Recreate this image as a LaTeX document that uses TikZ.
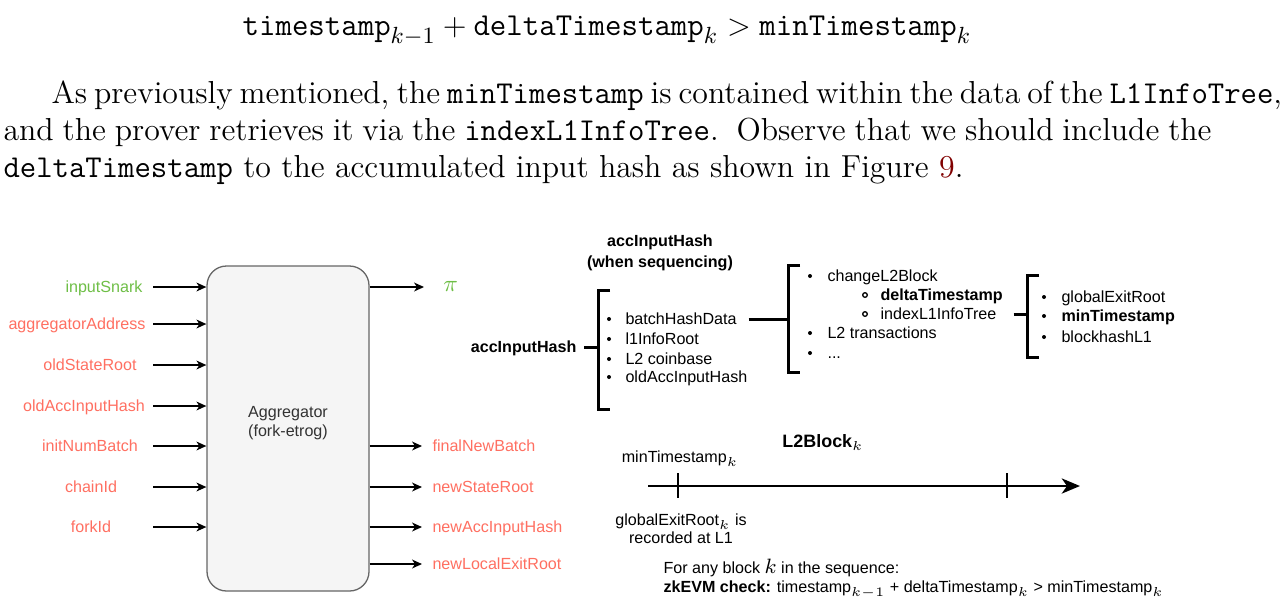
\documentclass[tikz,border=0pt]{standalone}
\usepackage{fontspec}
\setsansfont{Liberation Sans}
\usetikzlibrary{arrows.meta,fit}
\definecolor{inred}{RGB}{255,111,97}
\definecolor{ingreen}{RGB}{110,190,70}
\definecolor{boxfill}{RGB}{245,245,245}
\definecolor{boxline}{RGB}{102,102,102}
\definecolor{linkred}{RGB}{128,0,0}
\tikzset{
  body/.style={anchor=base west,inner sep=0pt,font=\fontsize{12.25}{14.5}\selectfont},
  lbl/.style={inner sep=0pt,text height=4.4pt,text depth=0pt,font=\sffamily\fontsize{6.2}{7.4}\selectfont},
  bold/.style={font=\sffamily\bfseries\fontsize{6.2}{7.4}\selectfont},
  arr/.style={line width=0.6pt,-{Stealth[length=3.8pt,width=3.4pt,inset=1.1pt]}},
  brk/.style={line width=1.15pt},
  aggbox/.style={draw=boxline,fill=boxfill,line width=0.5pt,rounded corners=7.5pt,inner sep=0pt}
}
\begin{document}
\begin{tikzpicture}[x=0.385pt,y=-0.385pt]
\useasboundingbox (0,0) rectangle (1282,615);

% text above the figure
\node [anchor=base,inner sep=0pt,font=\fontsize{12.3}{14.5}\selectfont] (eq) at (607,35)
  {$\texttt{timestamp}_{k-1}+\texttt{deltaTimestamp}_k>\texttt{minTimestamp}_k$};
\node [body] (par1) at (51,103) {\makebox[471.2pt][s]{As previously mentioned, the \texttt{minTimestamp} is contained within the data of the \texttt{L1InfoTree},}};
\node [body] (par2) at (3,140) {\makebox[465.1pt][s]{and the prover retrieves it via the \texttt{indexL1InfoTree}.\ \ Observe that we should include the}};
\node [body] (par3) at (3,177) {\texttt{deltaTimestamp} to the accumulated input hash as shown in Figure \textcolor{linkred}{9}.};

% aggregator
\node [aggbox,fit={(207,266) (369,591)},align=center,text=black!80,font=\sffamily\fontsize{6.2}{7.4}\selectfont] (agg) {Aggregator\\(fork-etrog)};

\foreach \name/\cx/\y/\col in {inputSnark/104/287/ingreen, aggregatorAddress/77/324/inred,
    oldStateRoot/90/365/inred, oldAccInputHash/84/406/inred, initNumBatch/90/446/inred,
    chainId/91/487/inred, forkId/91/527/inred} {
  \node [lbl,text=\col] (in-\name) at (\cx,\y) {\name};
  \coordinate (s-\name) at (153,\y);
  \draw [arr] (s-\name) -- (s-\name -| agg.west);
}

\node [lbl,anchor=west,inner xsep=7.3pt,text=ingreen,font=\fontsize{9}{9}\selectfont,text height=3.6pt] (pi) at (424,287) {$\pi$};
\draw [arr] (pi.west -| agg.east) -- (pi.west);

\foreach \name/\y in {finalNewBatch/446, newStateRoot/487, newAccInputHash/527, newLocalExitRoot/564} {
  \node [lbl,anchor=west,inner xsep=3.85pt,text=inred] (out-\name) at (422,\y) {\name};
  \draw [arr] (out-\name.west -| agg.east) -- (out-\name.west);
}

% accInputHash structure
\node [lbl,bold,align=center,font=\sffamily\bfseries\fontsize{6.2}{8.1}\selectfont,text height=] (title) at (660,251) {accInputHash\\(when sequencing)};
\node [lbl,bold,anchor=east,inner xsep=2.7pt] (aih) at (584,347) {accInputHash};
\coordinate (b1) at (598,347);
\draw [brk] (aih.east) -- (b1);
\draw [brk] (610,290) -- (598,290) -- (598,409) -- (610,409);
\foreach \txt/\y [count=\i] in {batchHashData/319, l1InfoRoot/339, L2 coinbase/359, oldAccInputHash/377} {
  \fill (609,\y) circle (2);
  \node [lbl,anchor=west] (la-\i) at (625,\y) {\txt};
}

\coordinate (b2) at (788,318);
\draw [brk] ([xshift=4.5pt]la-1.east) -- (la-1.east -| b2);
\draw [brk] (800,265) -- (788,265) -- (788,372) -- (800,372);
\fill (810,276) circle (2);
\node [lbl,anchor=west] (lb-1) at (827,276) {changeL2Block};
\draw [line width=0.5pt] (865,295) circle (2.3);
\node [lbl,bold,anchor=west] (lb-2) at (880,295) {deltaTimestamp};
\draw [line width=0.5pt] (865,314) circle (2.3);
\node [lbl,anchor=west] (lb-3) at (880,314) {indexL1InfoTree};
\fill (810,333) circle (2);
\node [lbl,anchor=west] (lb-4) at (827,333) {L2 transactions};
\fill (810,353) circle (2);
\node [lbl,anchor=west] (lb-5) at (827,353) {...};

\coordinate (b3) at (1027,316);
\draw [brk] ([xshift=6.5pt]lb-3.east) -- (lb-3.east -| b3);
\draw [brk] (1039,275) -- (1027,275) -- (1027,357) -- (1039,357);
\fill (1044,297) circle (2);
\node [lbl,anchor=west] (lc-1) at (1061,297) {globalExitRoot};
\fill (1044,316) circle (2);
\node [lbl,bold,anchor=west] (lc-2) at (1061,316) {minTimestamp};
\fill (1044,337) circle (2);
\node [lbl,anchor=west] (lc-3) at (1061,337) {blockhashL1};

% timeline
\node [lbl,font=\sffamily\bfseries\fontsize{6.9}{8}\selectfont] (l2b) at (823,442) {L2Block$_k$};
\node [lbl] (mints) at (680,457) {minTimestamp$_k$};
\coordinate (t0) at (648,486);
\coordinate (t1) at (1080,486);
\draw [line width=1.1pt,-{Stealth[length=7pt,width=5.8pt,inset=2pt]}] (t0) -- (t1);
\draw [line width=0.45pt] (678,473) -- (678,498);
\draw [line width=0.45pt] (1007,473) -- (1007,498);
\node [lbl,align=center,font=\sffamily\fontsize{6.2}{7}\selectfont,text height=] (ger) at (681,529) {globalExitRoot$_k$ is\\recorded at L1};
\node [lbl,anchor=west,align=left,font=\sffamily\fontsize{6.2}{7.4}\selectfont,text height=] (note) at (663,576)
  {For any block {\fontsize{8.5}{7}\selectfont$k$} in the sequence:\\\textbf{zkEVM check:} timestamp$_{k-1}$ + deltaTimestamp$_k$ > minTimestamp$_k$};
\end{tikzpicture}
\end{document}
